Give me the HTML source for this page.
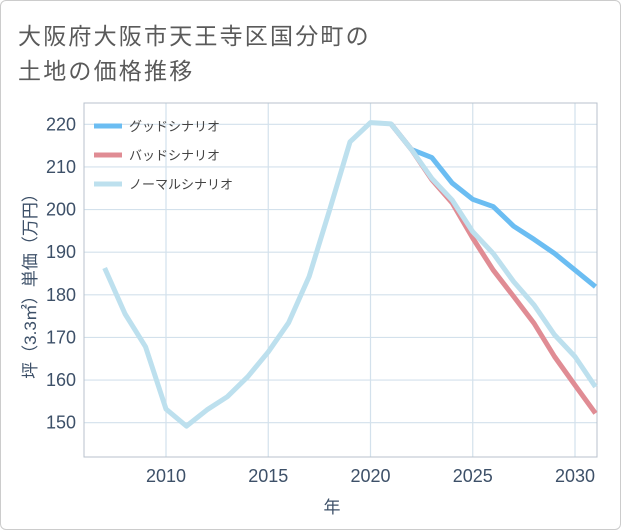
<!DOCTYPE html>
<html><head><meta charset="utf-8"><style>
html,body{margin:0;padding:0;background:#fff;}
#wrap{position:relative;width:619px;height:528px;border:1px solid #ccc;border-radius:6px;overflow:hidden;font-family:"Liberation Sans","Noto Sans CJK JP",sans-serif;}
.title{position:absolute;left:17px;font-size:23px;color:#5a5a5a;letter-spacing:2.2px;white-space:nowrap;}
</style></head><body>
<div id="wrap">
<div class="title" style="top:16px">大阪府大阪市天王寺区国分町の</div>
<div class="title" style="top:51px">土地の価格推移</div>
<svg id="chart" width="621" height="530" style="position:absolute;left:-1px;top:-1px"></svg>
</div>
<script>
const years=[2007,2008,2009,2010,2011,2012,2013,2014,2015,2016,2017,2018,2019,2020,2021,2022,2023,2024,2025,2026,2027,2028,2029,2030,2031];
const normalVals=[186.3,175.5,167.8,153.2,149.2,153,156.1,160.8,166.6,173.5,184.3,199.9,215.9,220.4,220.1,214.1,207.3,202.2,194.8,189.7,183.1,177.6,170.6,165.5,158.4];
const goodYears=[2021,2022,2023,2024,2025,2026,2027,2028,2029,2030,2031];
const goodVals=[220.1,214.1,212.2,206.2,202.4,200.7,196.1,193.0,189.7,185.8,181.9];
const badYears=[2021,2022,2023,2024,2025,2026,2027,2028,2029,2030,2031];
const badVals=[220.1,214.1,207.0,201.5,193.3,185.8,179.6,173.3,165.5,158.8,152.2];
const yTicks=[150,160,170,180,190,200,210,220];
const xTicks=[2010,2015,2020,2025,2030];
const legendLabels=["グッドシナリオ","バッドシナリオ","ノーマルシナリオ"];

const NS="http://www.w3.org/2000/svg";
const svg=document.getElementById('chart');
const L=84,R=597,T=103,B=457;
function xs(y){return 166+(y-2010)*(575-166)/20;}
function ys(v){return 124.3+(220-v)*(422.7-124.3)/70;}
function mk(tag,attrs,parent){const e=document.createElementNS(NS,tag);for(const k in attrs)e.setAttribute(k,attrs[k]);(parent||svg).appendChild(e);return e;}
const font='"Liberation Sans","Noto Sans CJK JP",sans-serif';

yTicks.forEach(t=>{
  const l=mk('line',{x1:L,x2:R,y1:ys(t),y2:ys(t),stroke:'#d3e1ec','stroke-width':1.2});
  
  
  const tx=mk('text',{x:76,y:ys(t)+6,'text-anchor':'end','font-size':18,fill:'#3d5068','font-family':font});
  tx.textContent=t;
  
  
});
xTicks.forEach(t=>{
  const l=mk('line',{x1:xs(t),x2:xs(t),y1:T,y2:B,stroke:'#d3e1ec','stroke-width':1.2});
  
  
  const tx=mk('text',{x:xs(t),y:482,'text-anchor':'middle','font-size':18,fill:'#3d5068','font-family':font});
  tx.textContent=t;
  
  
});
const frame=mk('rect',{x:L,y:T,width:R-L,height:B-T,fill:'none',stroke:'#b8c2cc','stroke-width':1});



function series(xv,yv,color,name){
  const p=mk('polyline',{points:xv.map((x,i)=>xs(x)+','+ys(yv[i])).join(' '),fill:'none',stroke:color,'stroke-width':5,'stroke-linejoin':'round'});
  
  
}
series(goodYears,goodVals,'#6bbdf2','good-scenario-line');
series(badYears,badVals,'#e08c94','bad-scenario-line');
series(years,normalVals,'#bde0ee','normal-scenario-line');

const lcolors=['#6bbdf2','#e08c94','#bde0ee'];
legendLabels.forEach((lab,i)=>{
  const y=126+i*29;
  const l=mk('line',{x1:94,x2:122,y1:y,y2:y,stroke:lcolors[i],'stroke-width':5});
  
  
  const tx=mk('text',{x:129,y:y+5,'font-size':13,fill:'#444','font-family':font});
  tx.textContent=lab;
  
  
});
const yt=mk('text',{x:0,y:0,'text-anchor':'middle','font-size':17,fill:'#3d5068','font-family':font,transform:'translate(36,282) rotate(-90)'});
yt.textContent='坪（3.3㎡）単価（万円）';


const xt=mk('text',{x:332,y:513,'text-anchor':'middle','font-size':17,fill:'#3d5068','font-family':font});
xt.textContent='年';


</script>
</body></html>
